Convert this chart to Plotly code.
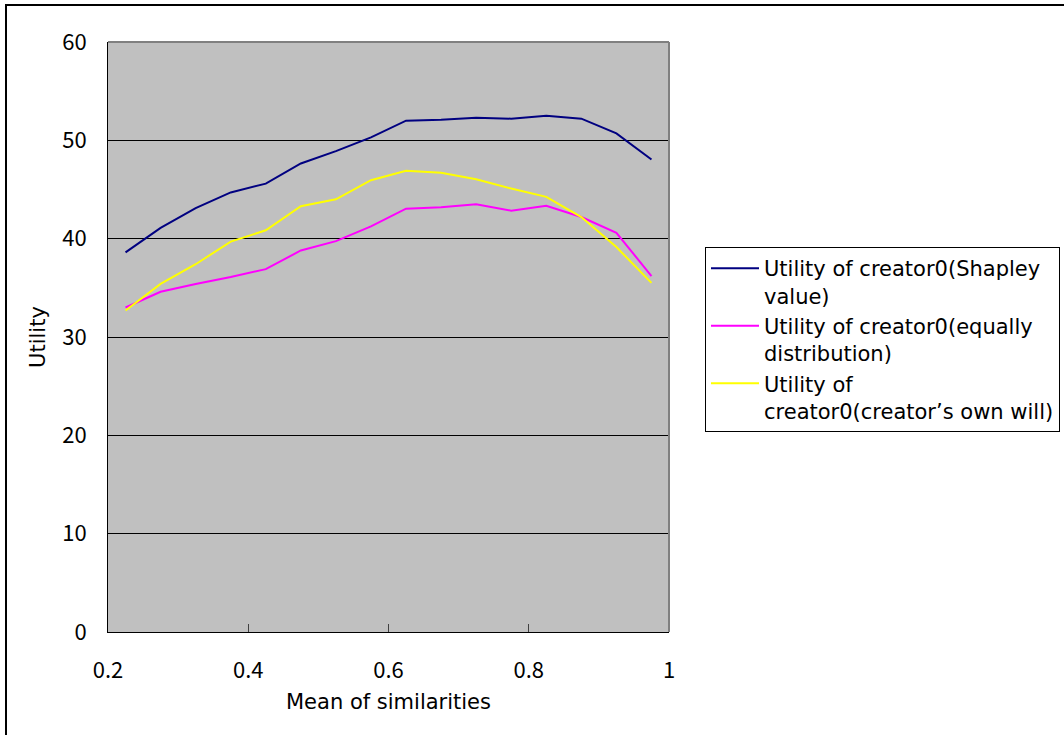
import plotly.graph_objects as go

x_vals = [0.225, 0.275, 0.325, 0.375, 0.425, 0.475, 0.525, 0.575,
          0.625, 0.675, 0.725, 0.775, 0.825, 0.875, 0.925, 0.975]
shapley = [38.6, 41.1, 43.1, 44.7, 45.6, 47.65, 48.9, 50.3,
           52.0, 52.1, 52.3, 52.2, 52.5, 52.2, 50.7, 48.05]
equally = [33.0, 34.6, 35.4, 36.1, 36.9, 38.8, 39.75, 41.25,
           43.05, 43.2, 43.5, 42.85, 43.35, 42.2, 40.6, 36.2]
own_will = [32.7, 35.4, 37.4, 39.7, 40.85, 43.3, 44.0, 45.95,
            46.9, 46.7, 46.05, 45.1, 44.25, 42.2, 39.15, 35.5]

names = ["Utility of creator0(Shapley<br>value)",
         "Utility of creator0(equally<br>distribution)",
         "Utility of<br>creator0(creator’s own will)"]
colors = ["#000080", "#FF00FF", "#FFFF00"]
x_ticks = [0.2, 0.4, 0.6, 0.8, 1]
x_tick_text = ["0.2", "0.4", "0.6", "0.8", "1"]
y_ticks = [0, 10, 20, 30, 40, 50, 60]

FONT = "DejaVu Sans"
TICKFONT = dict(family="Noto Sans CJK JP", size=22, color="black")

fig = go.Figure()
for ys, nm, c in zip([shapley, equally, own_will], names, colors):
    fig.add_trace(go.Scatter(x=x_vals, y=ys, mode="lines", name=nm,
                             line=dict(color=c, width=2)))

W, H = 1064, 735
L, R, T, B = 108, 669, 42, 632
fig.update_layout(
    width=W, height=H,
    margin=dict(l=L, r=W - R, t=T, b=H - B, autoexpand=False),
    paper_bgcolor="white", plot_bgcolor="#C0C0C0",
    font=dict(family=FONT, size=21, color="black"),
    showlegend=True,
    legend=dict(xref="container", yref="container",
                x=705 / W, y=1 - 247 / H, xanchor="left", yanchor="top",
                bordercolor="black", borderwidth=1, bgcolor="white",
                valign="top", tracegroupgap=0, itemwidth=48,
                font=dict(family=FONT, size=21, color="black")),
    xaxis=dict(range=[0.2, 1], tickvals=x_ticks, ticktext=x_tick_text,
               showgrid=False, zeroline=False, showline=True,
               linecolor="black", linewidth=1, mirror=False,
               ticks="inside", ticklen=8, tickcolor="#404040",
               ticklabelstandoff=19, tickfont=TICKFONT,
               title=dict(text="Mean of similarities", standoff=10,
                          font=dict(family=FONT, size=21))),
    yaxis=dict(range=[0, 60], tickvals=y_ticks,
               showgrid=True, gridcolor="black", gridwidth=1,
               zeroline=False, showline=True, linecolor="black",
               linewidth=1, ticks="", ticklabelstandoff=16, tickfont=TICKFONT,
               title=dict(text="Utility", standoff=10,
                          font=dict(family=FONT, size=21))),
    shapes=[
        dict(type="line", xref="paper", yref="paper", x0=0, x1=1, y0=1, y1=1,
             line=dict(color="#808080", width=2), layer="above"),
        dict(type="line", xref="paper", yref="paper", x0=1, x1=1, y0=0, y1=1,
             line=dict(color="#808080", width=2), layer="above"),
        dict(type="rect", xref="paper", yref="paper",
             x0=(6 - L) / (R - L), x1=(1075 - L) / (R - L),
             y0=(B - 745) / (B - T), y1=(B - 5) / (B - T),
             line=dict(color="black", width=2), fillcolor="rgba(0,0,0,0)",
             layer="above"),
    ],
)

fig.write_html("out.html")
